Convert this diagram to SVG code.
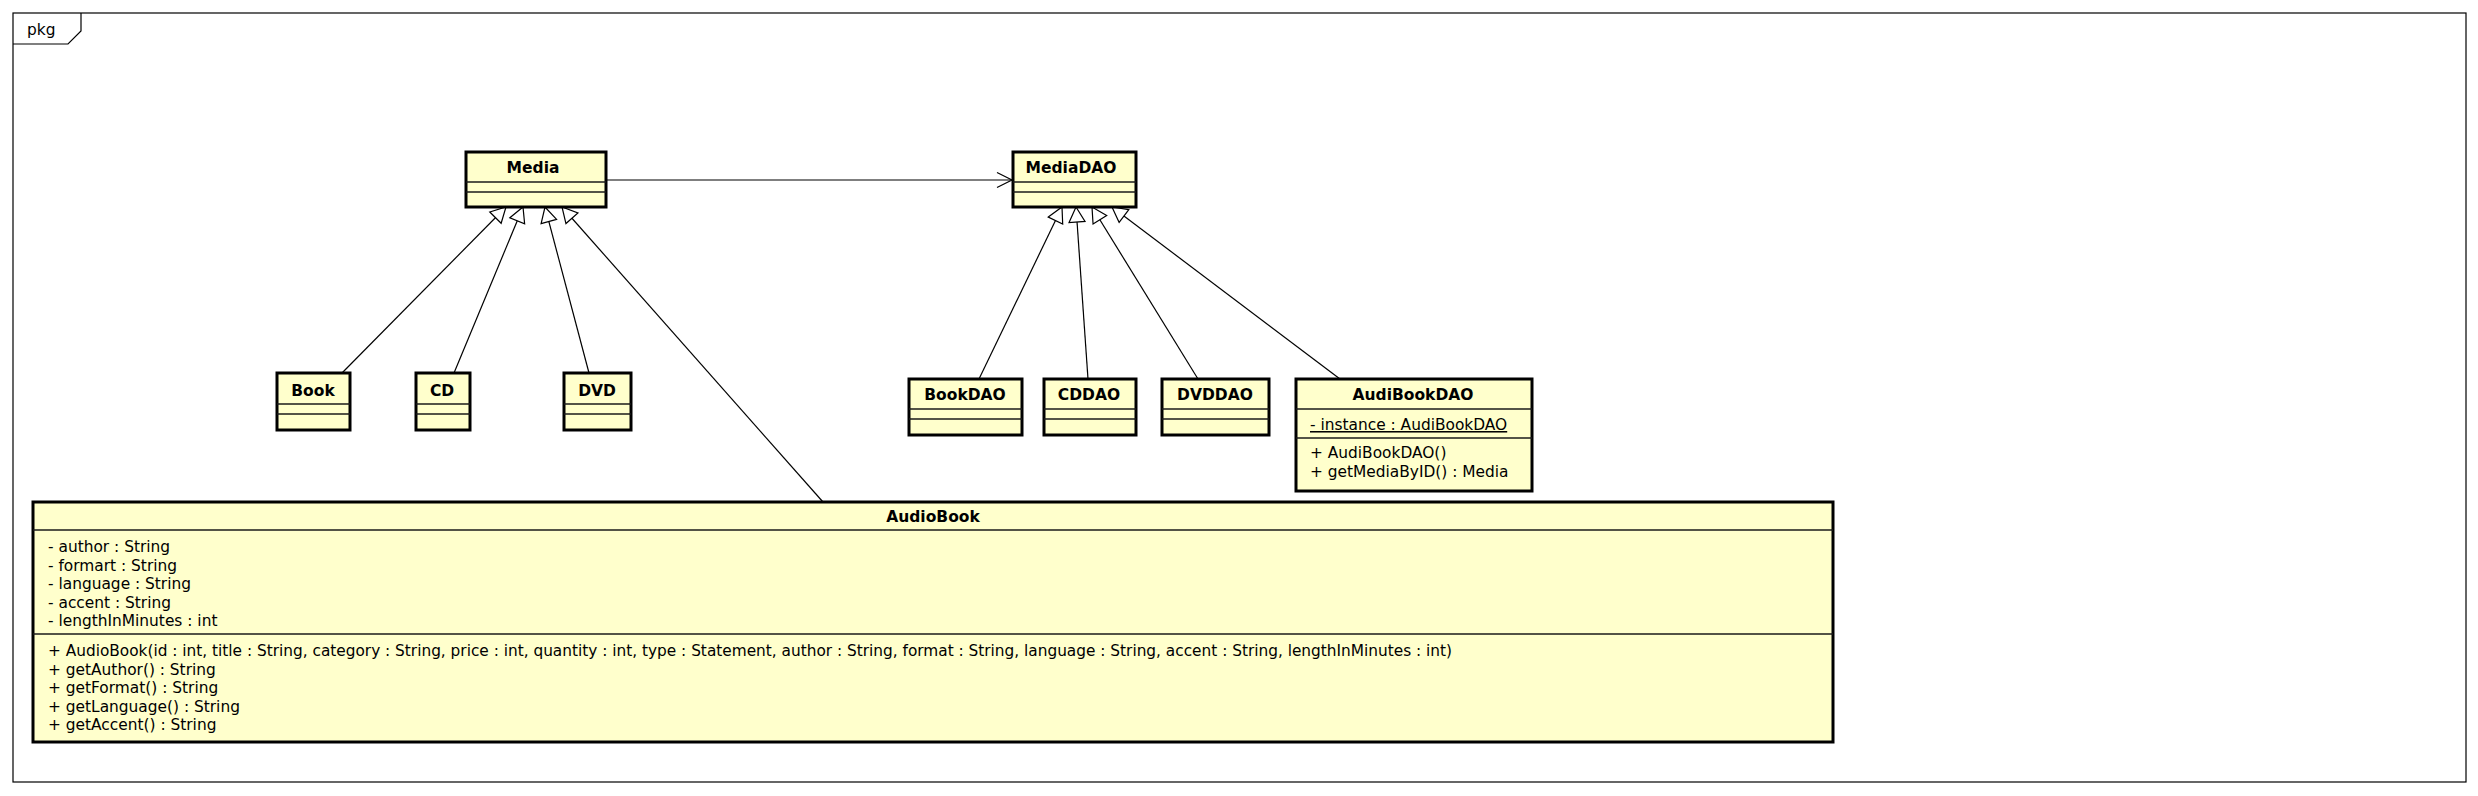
<svg xmlns="http://www.w3.org/2000/svg" width="2478" height="796" viewBox="0 0 2478 796">
<style>
.box{fill:#FFFFCC;stroke:#000;stroke-width:3}
.sep{stroke:#1a1a1a;stroke-width:1.3}
.t{font-family:"DejaVu Sans",sans-serif;font-size:15.5px;font-weight:bold;fill:#000;text-anchor:middle}
.m{font-family:"DejaVu Sans",sans-serif;font-size:15.4px;fill:#000}
.c{stroke:#000;stroke-width:1.2;fill:none}
</style>
<defs>
<marker id="gen" markerUnits="userSpaceOnUse" viewBox="-1 -9 17 18" markerWidth="17" markerHeight="18" refX="15" refY="0" orient="auto" overflow="visible">
<path d="M0,-8 L15,0 L0,8 Z" fill="#fff" stroke="#000" stroke-width="1.2"/>
</marker>
<marker id="open" markerUnits="userSpaceOnUse" viewBox="-1 -9 17 18" markerWidth="17" markerHeight="18" refX="15" refY="0" orient="auto" overflow="visible">
<path d="M0,-7.5 L15,0 L0,7.5" fill="none" stroke="#000" stroke-width="1.2"/>
</marker>
</defs>
<rect width="2478" height="796" fill="#fff"/>
<g id="frame">
<rect x="13" y="13" width="2453" height="769" fill="none" stroke="#000" stroke-width="1.2"/>
<path d="M13,44 H68 L81,31 V13" fill="none" stroke="#000" stroke-width="1.2"/>
<text x="27" y="35" class="m">pkg</text>
</g>
<g id="connectors">
<line class="c" x1="606" y1="180" x2="1012" y2="180" marker-end="url(#open)"/>
<line class="c" x1="342" y1="373" x2="506" y2="207" marker-end="url(#gen)"/>
<line class="c" x1="454" y1="373" x2="523" y2="207" marker-end="url(#gen)"/>
<line class="c" x1="589" y1="373" x2="545" y2="207" marker-end="url(#gen)"/>
<line class="c" x1="823" y1="502" x2="562" y2="207" marker-end="url(#gen)"/>
<line class="c" x1="979" y1="379" x2="1062" y2="207" marker-end="url(#gen)"/>
<line class="c" x1="1088" y1="379" x2="1076" y2="207" marker-end="url(#gen)"/>
<line class="c" x1="1198" y1="379" x2="1092" y2="207" marker-end="url(#gen)"/>
<line class="c" x1="1340" y1="379" x2="1112" y2="207" marker-end="url(#gen)"/>
</g>
<g id="Media">
<rect class="box" x="466" y="152" width="140" height="55"/>
<line class="sep" x1="466" y1="182" x2="606" y2="182"/>
<line class="sep" x1="466" y1="192" x2="606" y2="192"/>
<text class="t" x="533" y="173">Media</text>
</g>
<g id="MediaDAO">
<rect class="box" x="1013" y="152" width="123" height="55"/>
<line class="sep" x1="1013" y1="182" x2="1136" y2="182"/>
<line class="sep" x1="1013" y1="192" x2="1136" y2="192"/>
<text class="t" x="1071" y="173">MediaDAO</text>
</g>
<g id="Book">
<rect class="box" x="277" y="373" width="73" height="57"/>
<line class="sep" x1="277" y1="404" x2="350" y2="404"/>
<line class="sep" x1="277" y1="414" x2="350" y2="414"/>
<text class="t" x="313" y="396">Book</text>
</g>
<g id="CD">
<rect class="box" x="416" y="373" width="54" height="57"/>
<line class="sep" x1="416" y1="404" x2="470" y2="404"/>
<line class="sep" x1="416" y1="414" x2="470" y2="414"/>
<text class="t" x="442" y="396">CD</text>
</g>
<g id="DVD">
<rect class="box" x="564" y="373" width="67" height="57"/>
<line class="sep" x1="564" y1="404" x2="631" y2="404"/>
<line class="sep" x1="564" y1="414" x2="631" y2="414"/>
<text class="t" x="597" y="396">DVD</text>
</g>
<g id="BookDAO">
<rect class="box" x="909" y="379" width="113" height="56"/>
<line class="sep" x1="909" y1="409" x2="1022" y2="409"/>
<line class="sep" x1="909" y1="419" x2="1022" y2="419"/>
<text class="t" x="965" y="400">BookDAO</text>
</g>
<g id="CDDAO">
<rect class="box" x="1044" y="379" width="92" height="56"/>
<line class="sep" x1="1044" y1="409" x2="1136" y2="409"/>
<line class="sep" x1="1044" y1="419" x2="1136" y2="419"/>
<text class="t" x="1089" y="400">CDDAO</text>
</g>
<g id="DVDDAO">
<rect class="box" x="1162" y="379" width="107" height="56"/>
<line class="sep" x1="1162" y1="409" x2="1269" y2="409"/>
<line class="sep" x1="1162" y1="419" x2="1269" y2="419"/>
<text class="t" x="1215" y="400">DVDDAO</text>
</g>
<g id="AudiBookDAO">
<rect class="box" x="1296" y="379" width="236" height="112"/>
<line class="sep" x1="1296" y1="409" x2="1532" y2="409"/>
<line class="sep" x1="1296" y1="438" x2="1532" y2="438"/>
<text class="t" x="1413" y="400">AudiBookDAO</text>
<text class="m" x="1310" y="430" text-decoration="underline">- instance : AudiBookDAO</text>
<text class="m" x="1310" y="458">+ AudiBookDAO()</text>
<text class="m" x="1310" y="477">+ getMediaByID() : Media</text>
</g>
<g id="AudioBook">
<rect class="box" x="33" y="502" width="1800" height="240"/>
<line class="sep" x1="33" y1="530" x2="1833" y2="530"/>
<line class="sep" x1="33" y1="634" x2="1833" y2="634"/>
<text class="t" x="933" y="522">AudioBook</text>
<text class="m" x="48" y="552">- author : String</text>
<text class="m" x="48" y="570.5">- formart : String</text>
<text class="m" x="48" y="589">- language : String</text>
<text class="m" x="48" y="607.5">- accent : String</text>
<text class="m" x="48" y="626">- lengthInMinutes : int</text>
<text class="m" x="48" y="656" textLength="1404" lengthAdjust="spacingAndGlyphs">+ AudioBook(id : int, title : String, category : String, price : int, quantity : int, type : Statement, author : String, format : String, language : String, accent : String, lengthInMinutes : int)</text>
<text class="m" x="48" y="674.5">+ getAuthor() : String</text>
<text class="m" x="48" y="693">+ getFormat() : String</text>
<text class="m" x="48" y="711.5">+ getLanguage() : String</text>
<text class="m" x="48" y="730">+ getAccent() : String</text>
</g>
</svg>
